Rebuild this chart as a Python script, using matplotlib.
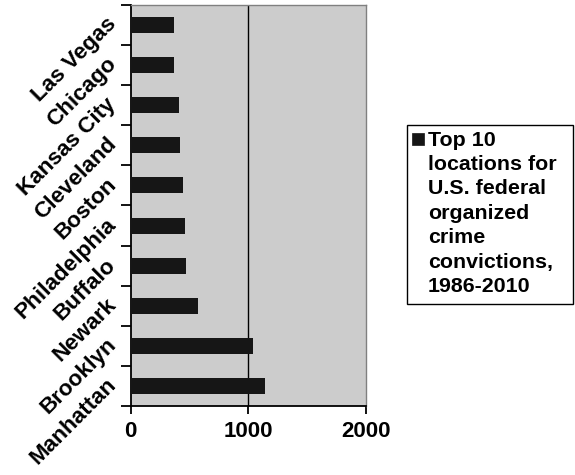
import numpy as np
import matplotlib.pyplot as plt
from matplotlib.patches import Rectangle

cities = ['Manhattan', 'Brooklyn', 'Newark', 'Buffalo', 'Philadelphia',
          'Boston', 'Cleveland', 'Kansas City', 'Chicago', 'Las Vegas']
convictions = [1143, 1044, 576, 474, 465, 448, 417, 414, 372, 366]
xticks = [0, 1000, 2000]
legend_label = 'Top 10\nlocations for\nU.S. federal\norganized\ncrime\nconvictions,\n1986-2010'

plt.rcParams['font.family'] = ['Liberation Sans', 'DejaVu Sans']
plt.rcParams['font.weight'] = 'bold'

fig = plt.figure(figsize=(5.75, 4.75), dpi=100)
ax = fig.add_axes([0.2273, 0.1453, 0.4087, 0.8442])
ax.set_facecolor('#cccccc')

y = np.arange(len(cities))
ax.barh(y, convictions, height=0.4, color='#161616', zorder=3)
ax.axvline(1000, color='black', lw=1, zorder=2)

ax.set_xlim(0, 2000)
ax.set_ylim(-0.5, len(cities) - 0.5)
ax.set_xticks(xticks)
ax.set_xticklabels([str(t) for t in xticks], fontsize=16, fontweight='bold')
ax.tick_params(axis='x', length=6, width=1.3, pad=5)

# ticks at category boundaries, labels at centers
ax.set_yticks(np.arange(len(cities) + 1) - 0.5)
ax.set_yticklabels([])
ax.set_yticks(y, minor=True)
ax.set_yticklabels(cities, minor=True, rotation=45, ha='right', va='baseline',
                   rotation_mode='anchor', fontsize=16.2, fontweight='bold')
ax.tick_params(axis='y', which='major', length=7, width=1.3)
ax.tick_params(axis='y', which='minor', length=0, pad=10)

for s in ['left', 'bottom']:
    ax.spines[s].set_linewidth(1.3)
for s in ['top', 'right']:
    ax.spines[s].set_color('#808080')
    ax.spines[s].set_linewidth(1)

# legend box drawn by hand
fig.patches.append(Rectangle((0.708, 0.36), 0.289, 0.377, transform=fig.transFigure,
                             facecolor='white', edgecolor='black', lw=1))
fig.patches.append(Rectangle((0.717, 0.6947), 0.0209, 0.0253, transform=fig.transFigure,
                             facecolor='#161616', edgecolor='#161616', lw=0.5))
fig.text(0.744, 0.725, legend_label, ha='left', va='top', fontsize=15.4,
         fontweight='bold', linespacing=1.36)

fig.savefig('out.png', dpi=100)
